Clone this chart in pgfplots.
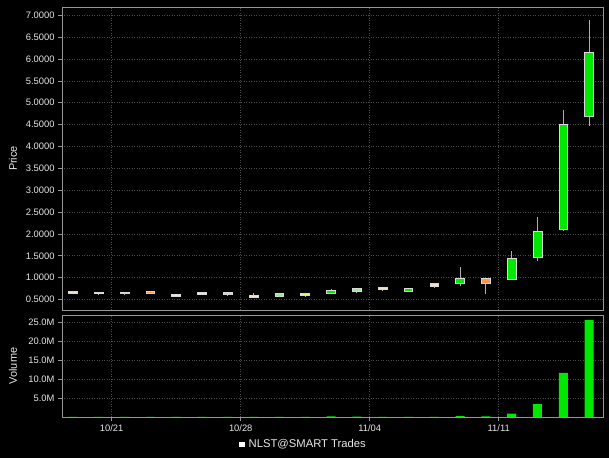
\documentclass[border=0pt]{standalone}
\usepackage{fontspec}
\setmainfont{Liberation Sans}
\usepackage{pgfplots}
\pgfplotsset{compat=1.18}
\usepgfplotslibrary{statistics}
\definecolor{cgreen}{RGB}{0,232,0}
\definecolor{corange}{RGB}{250,150,80}
\definecolor{ccream}{RGB}{240,226,205}
\definecolor{cpeach}{RGB}{245,200,160}
\definecolor{cyel}{RGB}{225,240,130}
\definecolor{clgreen}{RGB}{150,235,150}
\definecolor{gridc}{RGB}{75,75,75}
\definecolor{framec}{RGB}{150,150,150}
\definecolor{txt}{RGB}{230,230,230}
\definecolor{wickc}{RGB}{175,175,175}

\pgfplotsset{
  chartbase/.style={
    scale only axis, width=541bp, xmin=-0.426, xmax=20.54,
    axis background/.style={fill=black},
    axis line style={framec, line width=0.8pt},
    grid=major, grid style={gridc, dash pattern=on 1pt off 1.5pt, line width=0.6pt},
    tick style={framec, line width=0.6pt},
    tick align=outside, major tick length=4bp,
    xtick={1.5,6.5,11.5,16.5},
    ytick pos=left, xtick pos=bottom,
    tick label style={font=\fontsize{9.4}{10}\selectfont, text=txt},
    label style={font=\fontsize{11}{12}\selectfont, text=txt},
    /pgf/number format/assume math mode=true,
  },
}

% index, low, body bottom, body top, high, fill
\newcommand{\candle}[6]{%
  \addplot[fill=#6, draw=white!85!black, line width=0.7pt,
    boxplot/draw direction=y,
    boxplot prepared={draw position=#1, lower whisker=#2, lower quartile=#3,
      median=#3, upper quartile=#4, upper whisker=#5,
      box extend=0.34, whisker extend=0,
      every whisker/.style={draw=wickc, line width=0.9pt},
      every median/.style={draw=none}}] coordinates {};}

\begin{document}
\begin{tikzpicture}
\fill[black] (0,0) rectangle (609bp,458bp);
\useasboundingbox (0,0) rectangle (609bp,458bp);

\begin{axis}[chartbase, at={(62bp,148bp)}, anchor=south west, height=303bp,
  ymin=0.26, ymax=7.19,
  ytick={0.5,1,...,7.0},
  yticklabel style={/pgf/number format/.cd, fixed, fixed zerofill, precision=4},
  xticklabels={}, xtick style={draw=none},
  ylabel={Price},
  ylabel style={at={(axis description cs:-0.0905,0.5)}, anchor=center},
]
\candle{0}{0.64}{0.65}{0.69}{0.70}{ccream}
\candle{1}{0.62}{0.63}{0.66}{0.67}{ccream}
\candle{2}{0.62}{0.63}{0.66}{0.67}{cgreen}
\candle{3}{0.63}{0.64}{0.69}{0.70}{corange}
\candle{4}{0.57}{0.58}{0.61}{0.62}{ccream}
\candle{5}{0.61}{0.62}{0.66}{0.67}{ccream}
\candle{6}{0.60}{0.61}{0.66}{0.67}{cpeach}
\candle{7}{0.54}{0.55}{0.60}{0.65}{ccream}
\candle{8}{0.57}{0.58}{0.64}{0.65}{clgreen}
\candle{9}{0.58}{0.59}{0.63}{0.64}{cyel}
\candle{10}{0.63}{0.64}{0.71}{0.74}{cgreen}
\candle{11}{0.64}{0.69}{0.75}{0.77}{clgreen}
\candle{12}{0.69}{0.73}{0.78}{0.79}{ccream}
\candle{13}{0.67}{0.69}{0.75}{0.77}{cgreen}
\candle{14}{0.76}{0.79}{0.86}{0.87}{ccream}
\candle{15}{0.82}{0.87}{0.98}{1.25}{cgreen}
\candle{16}{0.63}{0.87}{0.98}{0.99}{corange}
\candle{17}{0.96}{0.97}{1.44}{1.61}{cgreen}
\candle{18}{1.38}{1.47}{2.07}{2.39}{cgreen}
\candle{19}{2.07}{2.11}{4.51}{4.84}{cgreen}
\candle{20}{4.47}{4.68}{6.16}{6.90}{cgreen}
\end{axis}

\begin{axis}[chartbase, at={(62bp,41bp)}, anchor=south west, height=102bp,
  ymin=0, ymax=26.84,
  ytick={5,10,15,20,25},
  yticklabels={5.0M,10.0M,15.0M,20.0M,25.0M},
  xticklabels={10/21,10/28,11/04,11/11},
  ylabel={Volume},
  ylabel style={at={(axis description cs:-0.0905,0.5)}, anchor=center},
  legend style={at={(axis description cs:0.446,-0.27)}, anchor=center,
    fill=none, draw=none, text=txt, font=\fontsize{11.3}{12}\selectfont,
    inner sep=0pt, nodes={inner sep=1.5bp}},
]
\addplot[ybar, bar width=0.35, fill=cgreen, draw=none, forget plot] coordinates {
(0,0.05) (1,0.05) (2,0.05) (3,0.05) (4,0.05) (5,0.05) (6,0.05) (7,0.05)
(8,0.06) (9,0.05) (10,0.15) (11,0.12) (12,0.05) (13,0.05) (14,0.06)
(15,0.2) (16,0.15) (17,0.9) (18,3.4) (19,11.6) (20,25.5)};
\addlegendimage{legend image code/.code={\path[fill=white, draw=white, line width=0.4bp] (0.3bp,-2.1bp) rectangle (4.9bp,2.5bp); \path[draw=none, fill=none] (0bp,0bp) -- (8bp,0bp);}}
\addlegendentry{NLST@SMART Trades}
\end{axis}
\end{tikzpicture}
\end{document}
